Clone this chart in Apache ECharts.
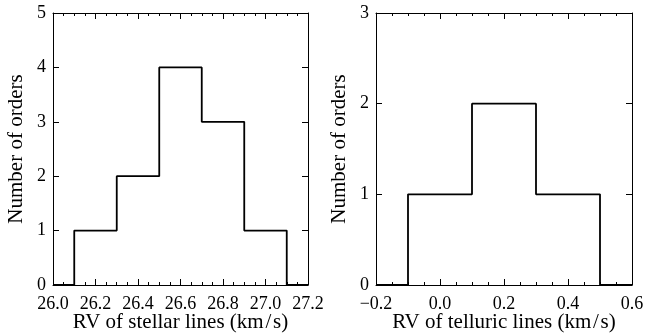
<!DOCTYPE html>
<html>
<head>
<meta charset="utf-8">
<script src="https://cdn.jsdelivr.net/npm/echarts@6/dist/echarts.min.js"></script>
<style>html,body{margin:0;padding:0;background:#fff}#c{width:645px;height:333px}</style>
</head>
<body>
<div id="c"></div>
<script>
// Left panel: RV of stellar lines
const stellarEdges = [26.1, 26.3, 26.5, 26.7, 26.9, 27.1];
const stellarCounts = [1, 2, 4, 3, 1];
const stellarRange = [26.0, 27.2];
const stellarYMax = 5;
// Right panel: RV of telluric lines
const telluricEdges = [-0.1, 0.1, 0.3, 0.5];
const telluricCounts = [1, 2, 1];
const telluricRange = [-0.2, 0.6];
const telluricYMax = 3;

const xTitles = ['RV of stellar lines (km\u200A/\u200As)', 'RV of telluric lines (km\u200A/\u200As)'];
const yTitle = 'Number of orders';

function stepData(edges, counts, range) {
  const d = [[range[0], 0]];
  for (let i = 0; i < counts.length; i++) d.push([edges[i], counts[i]]);
  d.push([edges[edges.length - 1], 0]);
  d.push([range[1], 0]);
  return d;
}

const FONT = 'Liberation Serif';
const fmtX = v => (v < -1e-9 ? '\u2212' + Math.abs(v).toFixed(1) : Math.abs(v).toFixed(1));

function xAxes(gi, range, name) {
  const common = {
    type: 'value', gridIndex: gi, min: range[0], max: range[1], interval: 0.2,
    axisLine: { show: true, onZero: false, lineStyle: { color: '#000', width: 1 } },
    axisTick: { show: true, inside: true, length: 6, lineStyle: { color: '#000', width: 1 } },
    minorTick: { show: true, splitNumber: 4, length: 3, lineStyle: { color: '#000', width: 1 } },
    splitLine: { show: false }, minorSplitLine: { show: false }
  };
  return [
    Object.assign({}, common, {
      position: 'bottom',
      name: name, nameLocation: 'middle', nameGap: 27, nameMoveOverlap: false,
      nameTextStyle: { fontFamily: FONT, fontSize: 21, color: '#000' },
      axisLabel: { show: true, margin: 10, fontFamily: FONT, fontSize: 18, color: '#000', formatter: fmtX }
    }),
    Object.assign({}, common, { position: 'top', axisLabel: { show: false } })
  ];
}

function yAxes(gi, ymax, name) {
  const common = {
    type: 'value', gridIndex: gi, min: 0, max: ymax, interval: 1,
    axisLine: { show: true, onZero: false, lineStyle: { color: '#000', width: 1 } },
    axisTick: { show: true, inside: true, length: 6, lineStyle: { color: '#000', width: 1 } },
    splitLine: { show: false }
  };
  return [
    Object.assign({}, common, {
      position: 'left',
      name: name, nameLocation: 'middle', nameGap: 26, nameMoveOverlap: false,
      nameTextStyle: { fontFamily: FONT, fontSize: 21, color: '#000' },
      axisLabel: { show: true, margin: 7, fontFamily: FONT, fontSize: 18, color: '#000' }
    }),
    Object.assign({}, common, { position: 'right', axisLabel: { show: false } })
  ];
}

const chart = echarts.init(document.getElementById('c'), null, { renderer: 'canvas' });
chart.setOption({
  animation: false,
  backgroundColor: '#fff',
  grid: [
    { left: 53, right: 337, top: 13, bottom: 48, containLabel: false, outerBoundsMode: 'none' },
    { left: 376, right: 13, top: 13, bottom: 48, containLabel: false, outerBoundsMode: 'none' }
  ],
  xAxis: [].concat(xAxes(0, stellarRange, xTitles[0]), xAxes(1, telluricRange, xTitles[1])),
  yAxis: [].concat(yAxes(0, stellarYMax, yTitle), yAxes(1, telluricYMax, yTitle)),
  series: [
    { type: 'line', xAxisIndex: 0, yAxisIndex: 0, step: 'end', symbol: 'none',
      lineStyle: { color: '#000', width: 1.8 }, data: stepData(stellarEdges, stellarCounts, stellarRange) },
    { type: 'line', xAxisIndex: 2, yAxisIndex: 2, step: 'end', symbol: 'none',
      lineStyle: { color: '#000', width: 1.8 }, data: stepData(telluricEdges, telluricCounts, telluricRange) }
  ]
});
</script>
</body>
</html>
